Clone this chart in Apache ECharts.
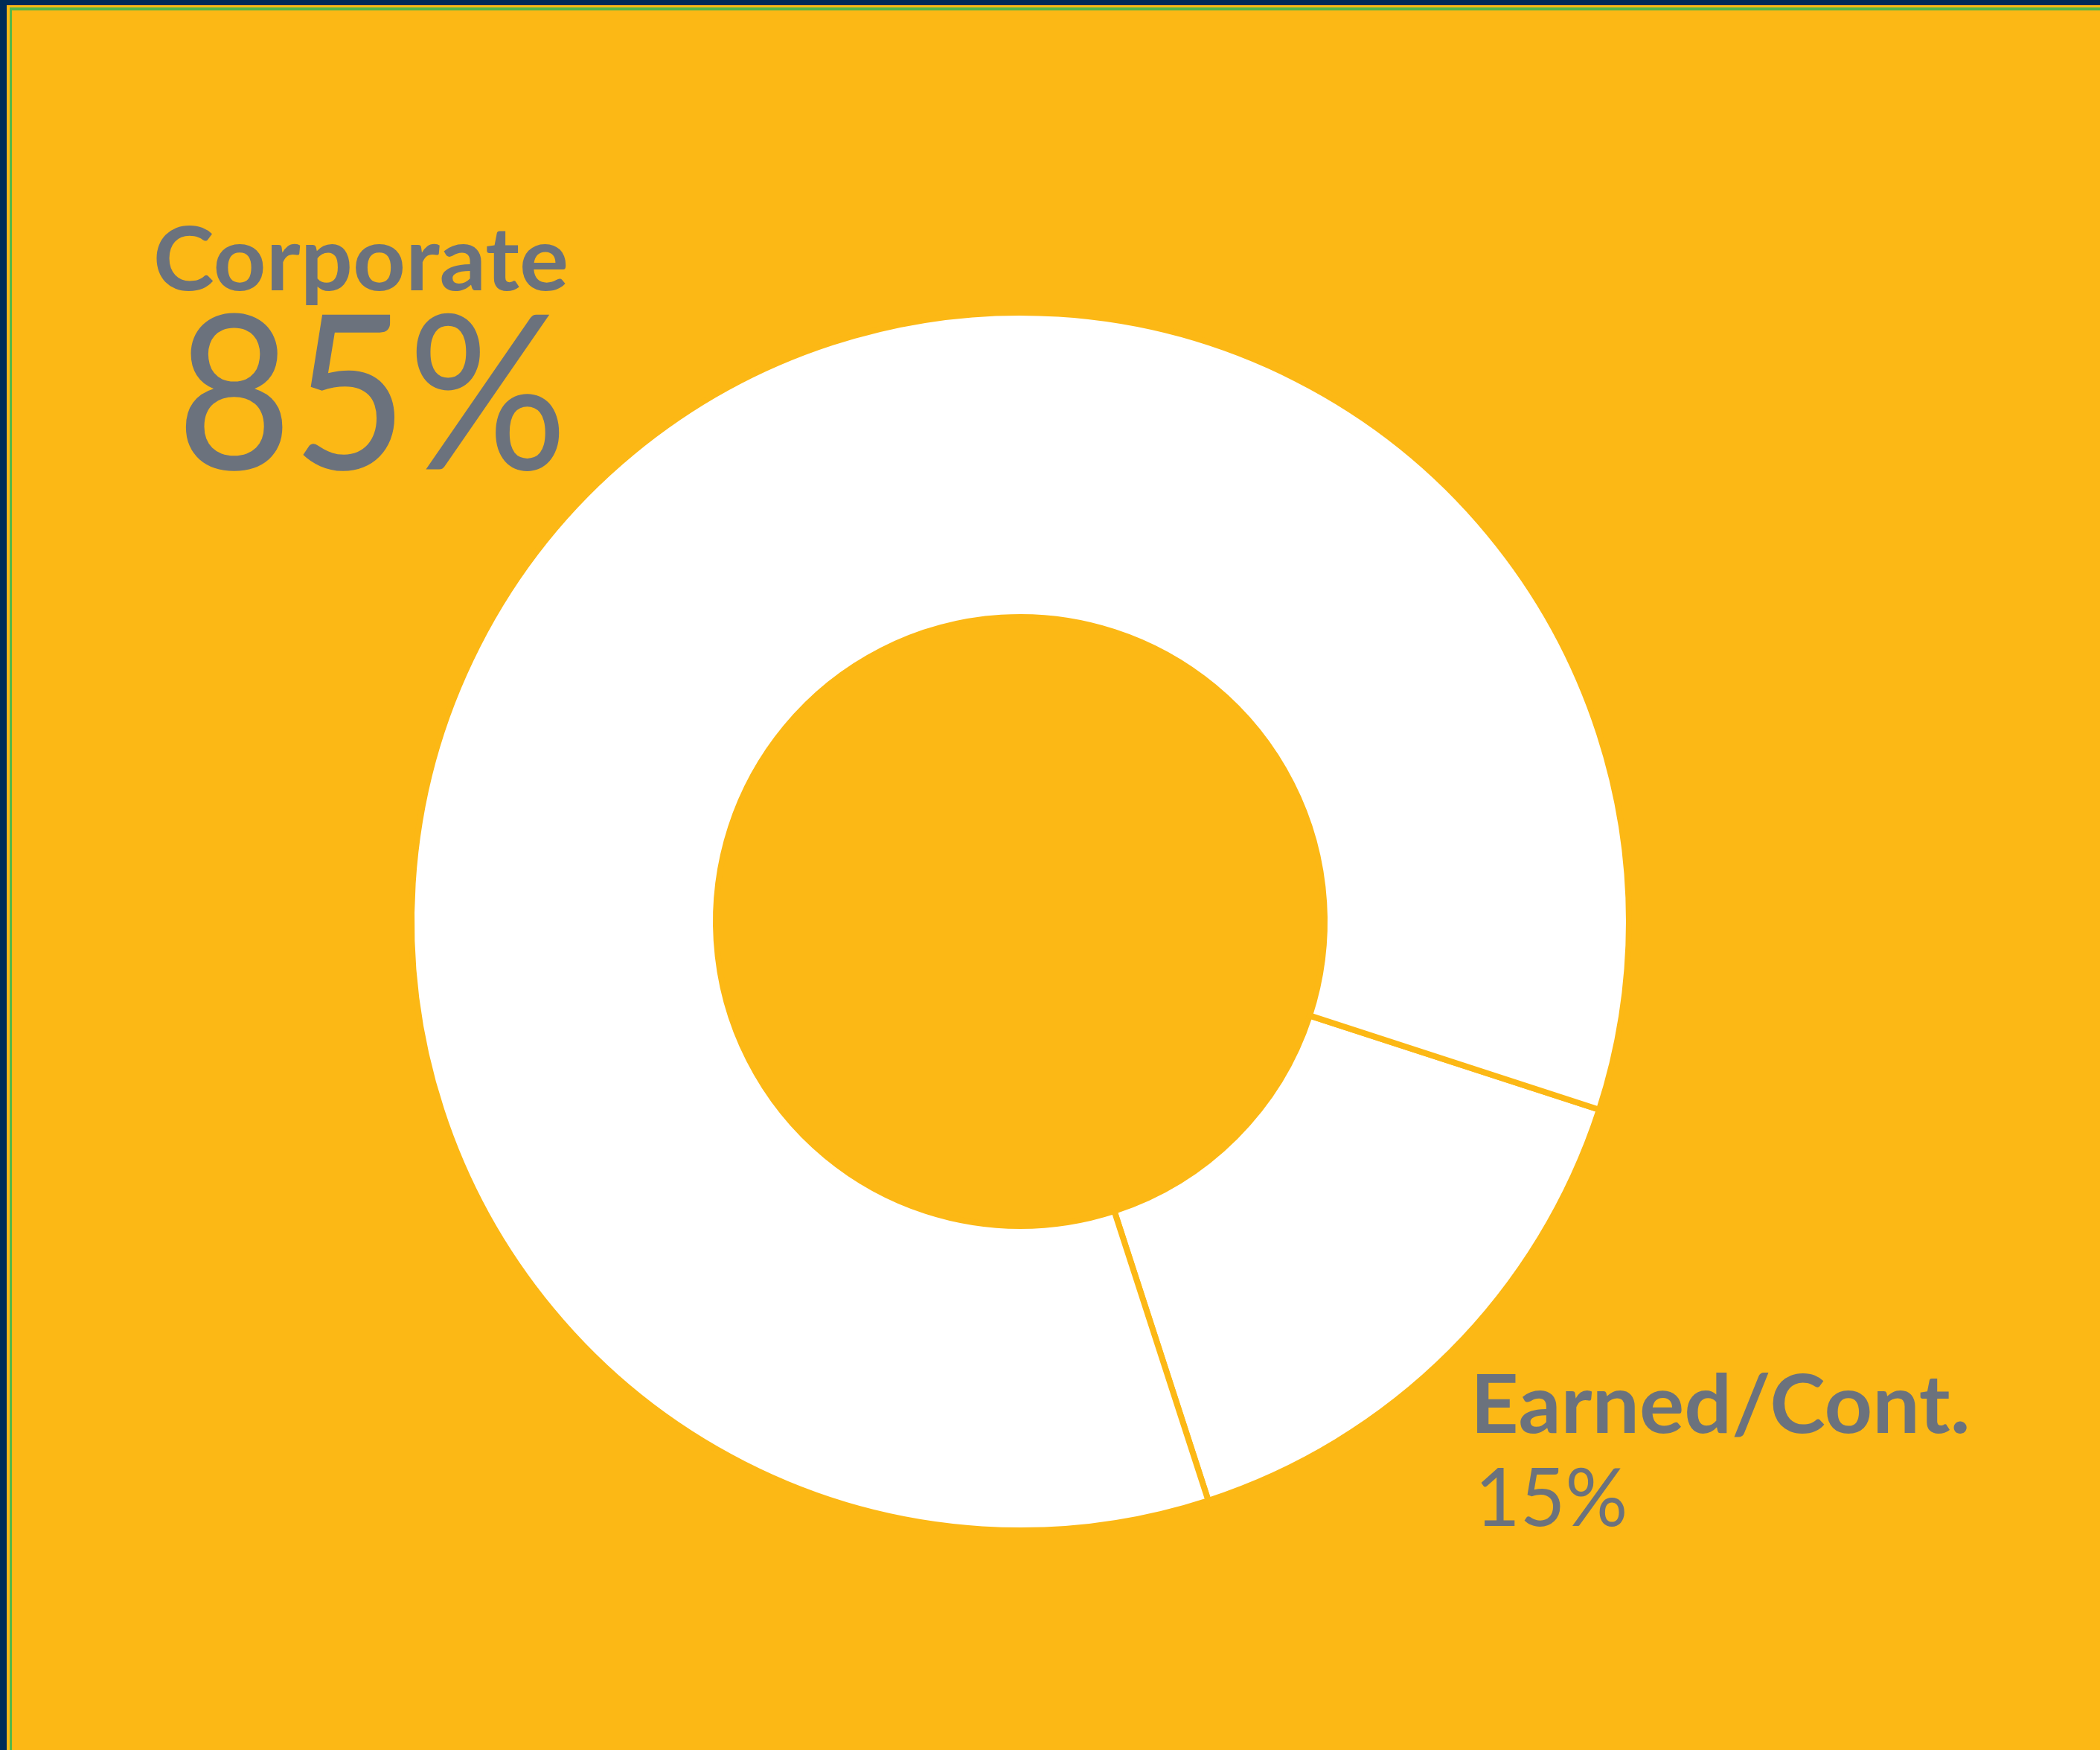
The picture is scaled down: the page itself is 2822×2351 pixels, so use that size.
<!DOCTYPE html>
<html>
<head>
<meta charset="utf-8">
<script src="https://cdn.jsdelivr.net/npm/echarts@6/dist/echarts.min.js"></script>
<style>
html, body { margin: 0; padding: 0; background: #fcb815; }
#chart { width: 2822px; height: 2351px; }
</style>
</head>
<body>
<div id="chart"></div>
<script>
// data
var categories = ['Earned/Cont.', 'Corporate'];
var shares = [15, 85];

var yellow = '#fcb815';
var gray = '#6b727d';

var chart = echarts.init(document.getElementById('chart'));

var option = {
    backgroundColor: yellow,
    animation: false,
    graphic: [
        // frame along top and left
        { type: 'rect', shape: { x: 0, y: 0, width: 2822, height: 7 }, style: { fill: '#002b57' } },
        { type: 'rect', shape: { x: 0, y: 0, width: 9, height: 2351 }, style: { fill: '#002b57' } },
        { type: 'rect', shape: { x: 13, y: 10, width: 2809, height: 4 }, style: { fill: '#55b848' } },
        { type: 'rect', shape: { x: 13, y: 10, width: 3, height: 2341 }, style: { fill: '#55b848' } },
        // labels
        { type: 'text', x: 764, y: 292, scaleX: 1.04, z: 10, style: { text: categories[1], fill: gray, font: 'bold 119px Lato', align: 'right', verticalAlign: 'top' } },
        { type: 'text', x: 763, y: 392, scaleX: 0.925, z: 10, style: { text: shares[1] + '%', fill: gray, font: '290px Lato', align: 'right', verticalAlign: 'top' } },
        { type: 'text', x: 1976, y: 1835, scaleX: 1.033, z: 10, style: { text: categories[0], fill: gray, font: 'bold 109px Lato', align: 'left', verticalAlign: 'top' } },
        { type: 'text', x: 1982, y: 1960, scaleX: 0.96, z: 10, style: { text: shares[0] + '%', fill: gray, font: '109px Lato', align: 'left', verticalAlign: 'top' } }
    ],
    series: [
        {
            type: 'pie',
            center: [1371, 1238],
            radius: [409, 818],
            startAngle: -18,
            clockwise: true,
            label: { show: false },
            labelLine: { show: false },
            emphasis: { disabled: true },
            itemStyle: { color: '#ffffff', borderColor: yellow, borderWidth: 8 },
            data: categories.map(function (c, i) { return { name: c, value: shares[i] }; })
        }
    ]
};
chart.setOption(option);
</script>
</body>
</html>
